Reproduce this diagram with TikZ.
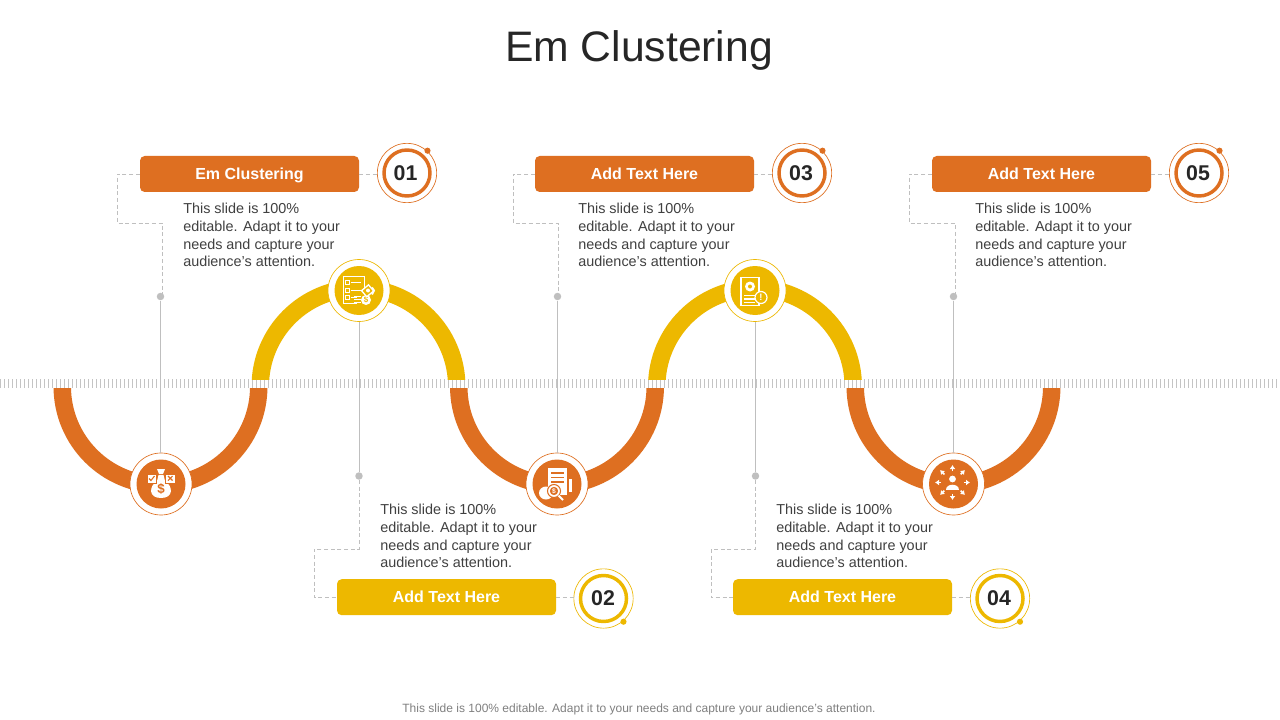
\documentclass[tikz,border=0pt]{standalone}
\usepackage{fontspec}
\setmainfont{Liberation Sans}
\usetikzlibrary{arrows.meta}
\definecolor{ora}{HTML}{DE6F21}
\definecolor{yel}{HTML}{EDB800}
\definecolor{gry}{HTML}{BFBFBF}
\definecolor{tick}{HTML}{C4C4C4}
\definecolor{txt}{HTML}{404040}
\tikzset{
  band/.style={line width=13.1pt,draw=#1},
  iconring/.style={circle,draw=#1,fill=white,line width=0.5pt,inner sep=0pt,minimum size=46.5pt},
  iconcore/.style={circle,fill=#1,inner sep=0pt,minimum size=36.75pt},
  headbox/.style={rectangle,rounded corners=3.5pt,fill=#1,text=white,inner sep=0pt,minimum width=164.25pt,minimum height=27pt,text height=8.6pt,text depth=0pt,font=\fontsize{12}{14}\selectfont\bfseries},
  numring/.style={circle,draw=#1,fill=white,line width=0.5pt,inner sep=0pt,minimum size=44.5pt},
  numthick/.style={circle,draw=#1,fill=white,line width=2.6pt,inner sep=0pt,minimum size=34.5pt},
  numtext/.style={text=black!85,inner sep=0pt,font=\fontsize{16}{18}\selectfont\bfseries},
  numdot/.style={circle,fill=#1,inner sep=0pt,minimum size=4.6pt},
  junction/.style={circle,fill=gry,inner sep=0pt,minimum size=5.6pt},
  body/.style={anchor=north west,inner sep=0pt,align=left,text=txt,font=\fontsize{10.8}{13.2}\selectfont},
  solidlink/.style={draw=gry,line width=0.75pt},
  dashlink/.style={draw=gry,line width=0.5pt,dash pattern=on 3pt off 2pt},
  ic/.style={draw=white,line width=0.7pt,fill=none},
  icf/.style={fill=white,draw=none},
  arw/.style={draw=white,line width=1.1pt,-{Latex[length=3pt,width=4.4pt]}}
}
\newcommand{\bodytext}{This slide is 100\%\\editable. Adapt it to your\\needs and capture your\\audience's attention.}
\begin{document}
\begin{tikzpicture}[x=0.75pt,y=-0.75pt]
\useasboundingbox (0,0) rectangle (1280,720);
\fill[white] (0,0) rectangle (1280,720);
% tick band
\draw[tick,line width=6.75pt,dash pattern=on 0.75pt off 2.25pt] (0,383.5) -- (1280,383.5);
% arcs
\begin{scope}
\clip (0,388) rectangle (1280,520);
\foreach \c in {160.5,557,953.5}
  \draw[band=ora] (\c,386.5) ++(-98.25,0) arc[start angle=180,end angle=360,x radius=98.25,y radius=-98.25];
\end{scope}
\begin{scope}
\clip (0,250) rectangle (1280,379);
\foreach \c in {358.5,755}
  \draw[band=yel] (\c,386.5) ++(-98.25,0) arc[start angle=180,end angle=0,x radius=98.25,y radius=-98.25];
\end{scope}
% icon discs
\node[iconring=ora] (i1) at (161,484) {};
\node[iconring=yel] (i2) at (359,290.5) {};
\node[iconring=ora] (i3) at (557,484) {};
\node[iconring=yel] (i4) at (755,290.5) {};
\node[iconring=ora] (i5) at (953.5,484) {};
\node[iconcore=ora] at (i1) {};
\node[iconcore=yel] at (i2) {};
\node[iconcore=ora] at (i3) {};
\node[iconcore=yel] at (i4) {};
\node[iconcore=ora] at (i5) {};
% icon 1: money bag
\begin{scope}[shift={(161,484)}]
  \fill[icf] (-4,-15) -- (4,-15) -- (2,-10) -- (-2,-10) -- cycle;
  \fill[icf] (-2.5,-9) -- (2.5,-9) -- (4,-3) .. controls (12,2) and (13,14) .. (0,14) .. controls (-13,14) and (-12,2) .. (-4,-3) -- cycle;
  \draw[icf,draw=ora,line width=0.6pt] (-14,-10) rectangle (-4.5,-1);
  \draw[icf,draw=ora,line width=0.6pt] (4.5,-10) rectangle (14,-1);
  \draw[ora,line width=0.8pt] (-12,-5.5) -- (-10,-3.5) -- (-6.5,-8);
  \draw[ora,line width=0.8pt] (7,-8) -- (11.5,-3.5) (11.5,-8) -- (7,-3.5);
  \node[text=ora,inner sep=0pt,font=\fontsize{10}{10}\selectfont\bfseries] at (0,5) {\$};
\end{scope}
% icon 2: checklist
\begin{scope}[shift={(359,290.5)}]
  \draw[ic] (-16,-14) rectangle (5,13);
  \foreach \y in {-8,0,7} {
    \draw[ic,line width=0.6pt] (-14,\y-2) rectangle (-10,\y+2);
    \draw[ic] (-8,\y) -- (2,\y);
  }
  \fill[yel] (-2,3) rectangle (14,16);
  \draw[ic,line width=0.9pt] (-5,6) -- (2,6) (-5,9) -- (2,9) (-5,12) -- (2,12);
  \fill[icf] (7,9.5) circle[radius=5];
  \node[text=yel,inner sep=0pt,font=\fontsize{6}{6}\selectfont\bfseries] at (7,9.5) {\$};
  \draw[ic,fill=yel,line width=1pt,rotate around={40:(9,0)}] (4,-4) rectangle (13,4);
  \fill[icf] (9,0) circle[radius=2];
  \draw[white,line width=1.4pt] (13,-3) -- (15,0) -- (13,4);
\end{scope}
% icon 3: document and magnifier
\begin{scope}[shift={(557,484)}]
  \fill[icf] (-9,-16) rectangle (10,11);
  \draw[ora,line width=0.9pt] (-6,-11) -- (7,-11) (-6,-6.5) -- (7,-6.5) (-6,-2) -- (7,-2);
  \fill[icf] (11.5,-5) rectangle (15,8);
  \fill[icf] (-11,9) ellipse[x radius=7,y radius=6.5];
  \draw[ora,fill=white,line width=0.8pt] (-3,7) circle[radius=6.5];
  \draw[ora,fill=ora] (-3,7) circle[radius=3.8];
  \node[text=white,inner sep=0pt,font=\fontsize{5}{5}\selectfont\bfseries] at (-3,7) {\$};
  \draw[white,line width=1.5pt] (1.5,11.5) -- (6,16);
\end{scope}
% icon 4: document with gear
\begin{scope}[shift={(755,290.5)}]
  \draw[ic,line width=0.9pt] (-14,-13) rectangle (4,15);
  \fill[icf] (-5,-4) circle[radius=5];
  \fill[yel] (-5,-4) circle[radius=2];
  \draw[ic,line width=0.9pt] (-11,5) -- (0,5) (-11,8.5) -- (0,8.5) (-11,12) -- (0,12);
  \draw[ic,fill=yel,line width=0.9pt] (6,7) circle[radius=6];
  \node[text=white,inner sep=0pt,font=\fontsize{7}{7}\selectfont\bfseries] at (6,7) {!};
\end{scope}
% icon 5: person with arrows
\begin{scope}[shift={(953.5,484)}]
  \fill[icf] (-1,-5) circle[radius=3.4];
  \fill[icf] (-7.5,5.5) .. controls (-7.5,-1.5) and (5.5,-1.5) .. (5.5,5.5) -- cycle;
  \foreach \a in {0,45,...,315} {
    \draw[arw,shift={(-1,-1.5)}] (\a:11.5) -- (\a:17.5);
  }
\end{scope}
% head boxes
\node[headbox=ora] (b1) at (249.5,174) {Em Clustering};
\node[headbox=yel] (b2) at (446.5,597.2) {Add Text Here};
\node[headbox=ora] (b3) at (644.5,174) {Add Text Here};
\node[headbox=yel] (b4) at (842.5,597.2) {Add Text Here};
\node[headbox=ora] (b5) at (1041.5,174) {Add Text Here};
% number badges
\node[numring=ora] (r1) at (407,173) {};
\node[numring=yel] (r2) at (603.5,598.5) {};
\node[numring=ora] (r3) at (802,173) {};
\node[numring=yel] (r4) at (1000,598.5) {};
\node[numring=ora] (r5) at (1199,173) {};
\node[numthick=ora] at (r1) {};
\node[numthick=yel] at (r2) {};
\node[numthick=ora] at (r3) {};
\node[numthick=yel] at (r4) {};
\node[numthick=ora] at (r5) {};
\node[numtext] at (405.5,173.5) {01};
\node[numtext] at (603,598.5) {02};
\node[numtext] at (801,173.5) {03};
\node[numtext] at (999,598.5) {04};
\node[numtext] at (1198,173.5) {05};
\node[numdot=ora] at (427.5,150.7) {};
\node[numdot=yel] at (623.5,621.7) {};
\node[numdot=ora] at (822.5,150.7) {};
\node[numdot=yel] at (1020,621.7) {};
\node[numdot=ora] at (1219.5,150.7) {};
% junctions
\node[junction] (j1) at (160.5,296.5) {};
\node[junction] (j2) at (359,476) {};
\node[junction] (j3) at (557.5,296.5) {};
\node[junction] (j4) at (755.5,476) {};
\node[junction] (j5) at (953.5,296.5) {};
% elbows
\coordinate (e1a) at (117,174); \coordinate (e1b) at (117,223); \coordinate (e1c) at (162.5,223); \coordinate (e1d) at (162.5,296.5);
\coordinate (e3a) at (513,174); \coordinate (e3b) at (513,223); \coordinate (e3c) at (558,223); \coordinate (e3d) at (558,296.5);
\coordinate (e5a) at (909,174); \coordinate (e5b) at (909,223); \coordinate (e5c) at (955,223); \coordinate (e5d) at (955,296.5);
\coordinate (e2a) at (314,597.2); \coordinate (e2b) at (314,549); \coordinate (e2c) at (359,549);
\coordinate (e4a) at (711,597.2); \coordinate (e4b) at (711,549); \coordinate (e4c) at (755.5,549);
% connectors
\draw[solidlink] (j1) -- (i1.north -| j1);
\draw[solidlink] (j3) -- (i3.north -| j3);
\draw[solidlink] (j5) -- (i5.north -| j5);
\draw[solidlink] (i2.south -| j2) -- (j2);
\draw[solidlink] (i4.south -| j4) -- (j4);
\draw[dashlink] (b1.west) -- (e1a) -- (e1b) -- (e1c) -- (e1d);
\draw[dashlink] (b3.west) -- (e3a) -- (e3b) -- (e3c) -- (e3d);
\draw[dashlink] (b5.west) -- (e5a) -- (e5b) -- (e5c) -- (e5d);
\draw[dashlink] (j2) -- (e2c) -- (e2b) -- (e2a) -- (b2.west);
\draw[dashlink] (j4) -- (e4c) -- (e4b) -- (e4a) -- (b4.west);
\draw[dashlink] (b1.east) -- (r1.west |- b1.east);
\draw[dashlink] (b2.east) -- (r2.west |- b2.east);
\draw[dashlink] (b3.east) -- (r3.west |- b3.east);
\draw[dashlink] (b4.east) -- (r4.west |- b4.east);
\draw[dashlink] (b5.east) -- (r5.west |- b5.east);
% body text
\node[body] (t1) at (183,203.2) {\bodytext};
\node[body] (t2) at (380,504.2) {\bodytext};
\node[body] (t3) at (578,203.2) {\bodytext};
\node[body] (t4) at (776,504.2) {\bodytext};
\node[body] (t5) at (975,203.2) {\bodytext};
% title and footer
\node[inner sep=0pt,text=black!85,font=\fontsize{32}{36}\selectfont] (title) at (639,50) {Em Clustering};
\node[inner sep=0pt,text=black!50,font=\fontsize{9}{11}\selectfont] (foot) at (639,709.5) {This slide is 100\% editable. Adapt it to your needs and capture your audience's attention.};
\end{tikzpicture}
\end{document}
